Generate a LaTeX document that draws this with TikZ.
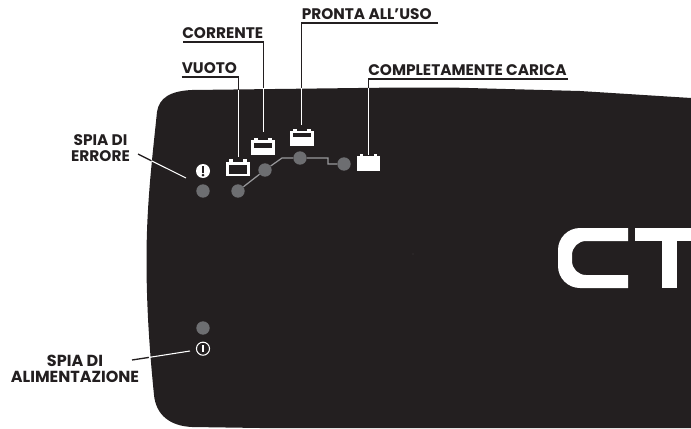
\documentclass[tikz,border=0pt]{standalone}
\usepackage{fontspec}
\setmainfont{Poppins}[BoldFont={Poppins Bold}]
\definecolor{panel}{HTML}{231F20}
\definecolor{led}{HTML}{6D6E71}
\tikzset{
  lbl/.style={font=\fontsize{11.5pt}{12pt}\selectfont\bfseries,text=panel,inner sep=0pt,anchor=base west},
  lblc/.style={font=\fontsize{11.5pt}{12pt}\selectfont\bfseries,text=panel,inner sep=0pt,align=center},
  leadd/.style={draw=panel,line width=1pt},
  leadw/.style={draw=white,line width=0.8pt},
  ledot/.style={circle,fill=led,inner sep=0pt,minimum size=10pt},
  link/.style={draw=led!70!white,line width=0.9pt},
}
% #1 left x, #2 body top y, #3 dark top, #4 dark bottom (0 = none)
\newcommand{\batt}[4]{%
  \fill[white] (#1,#2) rectangle (#1+23.5,#2+14.7);
  \fill[white] (#1+3,#2-2.5) rectangle (#1+6.5,#2);
  \fill[white] (#1+17,#2-2.5) rectangle (#1+20.5,#2);
  \ifdim#4pt=0pt \else \fill[panel] (#1+3,#3) rectangle (#1+20.5,#4);\fi
}
\begin{document}
\begin{tikzpicture}[x=0.75pt,y=-0.75pt]
\useasboundingbox (0,0) rectangle (691,428);
% panel
\fill[panel] (691,98) -- (580,91) -- (450,87.5) -- (400,87.5) -- (192,90)
  .. controls (170,91) and (159,98) .. (157,112)
  .. controls (152,160) and (146.5,205) .. (146.5,260)
  .. controls (146.5,310) and (150,355) .. (154,395)
  .. controls (156,415) and (170,426) .. (192,427)
  -- (260,428) -- (691,428) -- cycle;
% logo
\fill[white] (628,228) -- (580,228) arc[start angle=270,end angle=180,radius=22] -- (558,266)
  arc[start angle=180,end angle=90,radius=22] -- (628,288) -- (628,275)
  -- (586,275) arc[start angle=90,end angle=180,radius=14] -- (572,255)
  arc[start angle=180,end angle=270,radius=14] -- (628,241) -- cycle;
\fill[white] (635,228) rectangle (691,241);
\fill[white] (662,240) rectangle (677,288);
% labels
\node[lbl] (vuoto) at (181.5,74) {VUOTO};
\node[lbl] (corrente) at (182,39) {CORRENTE};
\node[lbl] (pronta) at (301.5,20) {PRONTA ALL'USO};
\node[lbl] (completa) at (368,75.5) {COMPLETAMENTE CARICA};
\node[lblc] (errore) at (100.5,148) {SPIA DI\\ERRORE};
\node[lblc,font=\fontsize{12pt}{11.8pt}\selectfont\bfseries] (alim) at (75,369) {SPIA DI\\ALIMENTAZIONE};
% leds
\node[ledot] (le) at (203,191) {};
\node[ledot] (lp) at (203,328) {};
\node[ledot] (l1) at (238,191) {};
\node[ledot] (l2) at (265,170) {};
\node[ledot] (l3) at (300,158) {};
\node[ledot] (l4) at (344,164) {};
\draw[link] (l1) -- (l2) -- (282,158) -- (l3) -- (328,158) -- (328,164) -- (l4);
% batteries
\batt{226}{161.5}{164.5}{173.5}
\batt{251}{140.3}{142.6}{148.3}
\batt{290.3}{131}{132.8}{137}
\batt{356.7}{156}{0}{0}
% leaders
\coordinate (bv) at (238.3,157);
\coordinate (bc) at (263.3,132);
\coordinate (bp) at (301.3,125);
\coordinate (bf) at (368.5,155);
\draw[leadd] (181.5,77) -- (238.3,77) -- (238.3,91);
\draw[leadw] (238.3,90) -- (bv);
\draw[leadd] (183,42) -- (263.3,42) -- (263.3,88.5);
\draw[leadw] (263.3,88) -- (bc);
\draw[leadd] (438,23) -- (301.3,23) -- (301.3,88);
\draw[leadw] (301.3,87.5) -- (bp);
\draw[leadd] (568,79) -- (368.5,79) -- (368.5,88);
\draw[leadw] (368.5,87.5) -- (bf);
% error icon
\node[circle,fill=white,inner sep=0pt,minimum size=10.5pt] (ie) at (203,171) {};
\fill[panel] (201.6,165.8) rectangle (204.4,172.8);
\fill[panel] (203,175.2) circle (1.5);
\draw[leadd] (138,154) -- (151.5,160.8);
\draw[leadw] (151.5,160.8) -- (186,178);
% power icon
\node[circle,draw=white,line width=0.8pt,inner sep=0pt,minimum size=9.8pt] (ip) at (203,348.7) {};
\draw[white,line width=0.9pt] (203,345) -- (203,352.4);
\draw[leadd] (132,360) -- (149,357.4);
\draw[leadw] (149,357.4) -- (190,351);
% speck
\fill[led] (413,254) circle (0.4);
\end{tikzpicture}
\end{document}
